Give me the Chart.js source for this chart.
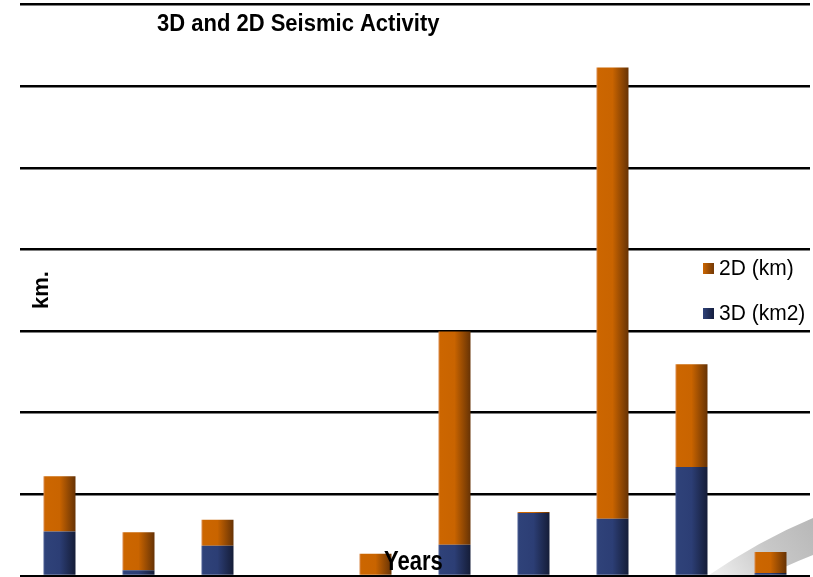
<!DOCTYPE html>
<html>
<head>
<meta charset="utf-8">
<script src="https://cdn.jsdelivr.net/npm/chart.js@4/dist/chart.umd.min.js"></script>
<style>
  html, body { margin: 0; padding: 0; background: #fff; }
  #wrap { position: relative; width: 813px; height: 577px; }
</style>
</head>
<body>
<div id="wrap"><canvas id="c" width="813" height="577"></canvas></div>
<script>
// ---- data (axis has no printed tick labels) ----
const categories = ["Y1", "Y2", "Y3", "Y4", "Y5", "Y6", "Y7", "Y8", "Y9", "Y10"];
const seismic3D = [272, 35, 186, 0, 0, 192, 386, 350, 668, 18];
const seismic2D = [339, 233, 159, 0, 137, 1305, 6, 2764, 629, 129];
const yTicks = [0, 500, 1000, 1500, 2000, 2500, 3000, 3500];

const titleText = "3D and 2D Seismic Activity";
const yTitle = "km.";
const xTitle = "Years";
const label2D = "2D (km)";
const label3D = "3D (km2)";

const BAR_FRAC = 0.405;

function barGradient(ctx, stops) {
  const chart = ctx.chart;
  if (!chart.chartArea || !chart.scales.x) return stops[1][1];
  const xs = chart.scales.x;
  const cx = xs.getPixelForValue(ctx.dataIndex);
  const half = (xs.getPixelForValue(1) - xs.getPixelForValue(0)) * BAR_FRAC / 2;
  const g = chart.ctx.createLinearGradient(cx - half, 0, cx + half, 0);
  stops.forEach(s => g.addColorStop(s[0], s[1]));
  return g;
}
const orangeStops = [[0, '#D9894A'], [0.06, '#CC6600'], [0.5, '#C96400'], [1, '#673305']];
const blueStops = [[0, '#4A5C92'], [0.06, '#2F4279'], [0.5, '#2C3E75'], [1, '#151D38']];

const decoPlugin = {
  id: 'deco',
  beforeDraw(chart) {
    const c = chart.ctx;
    c.save();
    const g = c.createLinearGradient(720, 577, 813, 520);
    g.addColorStop(0, '#ececec');
    g.addColorStop(0.5, '#c8c8c8');
    g.addColorStop(1, '#b8b8b8');
    c.fillStyle = g;
    c.beginPath();
    c.moveTo(706, 577);
    c.quadraticCurveTo(760, 540, 813, 518);
    c.lineTo(813, 555);
    c.quadraticCurveTo(785, 566, 765, 577);
    c.closePath();
    c.fill();
    c.restore();
  },
  afterDraw(chart) {
    const c = chart.ctx;
    c.save();
    c.fillStyle = '#000';
    c.textBaseline = 'alphabetic';
    // title
    c.save();
    c.translate(157, 31);
    c.scale(1, 1.08);
    c.font = 'bold 22px "Liberation Sans", Arial, sans-serif';
    c.textAlign = 'left';
    c.fillText(titleText, 0, 0);
    c.restore();
    // y title
    c.save();
    c.translate(48, 290);
    c.rotate(-Math.PI / 2);
    c.textAlign = 'center';
    c.font = 'bold 22px "Liberation Sans", Arial, sans-serif';
    c.fillText(yTitle, 0, 0);
    c.restore();
    // x title
    c.save();
    c.translate(384, 570);
    c.scale(1, 1.25);
    c.textAlign = 'left';
    c.font = 'bold 22px "Liberation Sans", Arial, sans-serif';
    c.fillText(xTitle, 0, 0);
    c.restore();
    // legend
    const items = [
      { text: label2D, stops: [[0, '#CC6600'], [1, '#7A3C05']], y: 268 },
      { text: label3D, stops: [[0, '#2F4279'], [1, '#172042']], y: 313 }
    ];
    items.forEach(it => {
      const g = c.createLinearGradient(703, 0, 713, 0);
      it.stops.forEach(s => g.addColorStop(s[0], s[1]));
      c.fillStyle = g;
      c.fillRect(703, it.y - 5, 11, 11);
      c.save();
      c.translate(719, it.y + 1);
      c.scale(1, 1.08);
      c.fillStyle = '#000';
      c.font = '21px "Liberation Sans", Arial, sans-serif';
      c.textAlign = 'left';
      c.textBaseline = 'middle';
      c.fillText(it.text, 0, 0);
      c.restore();
    });
    c.restore();
  }
};

new Chart(document.getElementById('c'), {
  type: 'bar',
  data: {
    labels: categories,
    datasets: [
      {
        label: label3D,
        data: seismic3D,
        backgroundColor: ctx => barGradient(ctx, blueStops),
        borderWidth: 0,
        categoryPercentage: 1,
        barPercentage: BAR_FRAC
      },
      {
        label: label2D,
        data: seismic2D,
        backgroundColor: ctx => barGradient(ctx, orangeStops),
        borderWidth: 0,
        categoryPercentage: 1,
        barPercentage: BAR_FRAC
      }
    ]
  },
  options: {
    responsive: false,
    animation: false,
    layout: { padding: { left: 20, right: 3, top: 4.5, bottom: 1 } },
    plugins: {
      legend: { display: false },
      title: { display: false },
      tooltip: { enabled: false }
    },
    scales: {
      x: {
        stacked: true,
        display: false
      },
      y: {
        stacked: true,
        min: yTicks[0],
        max: yTicks[yTicks.length - 1],
        afterBuildTicks: s => { s.ticks = yTicks.map(v => ({ value: v })); },
        afterFit: s => { s.width = 0; },
        ticks: { display: false },
        border: { display: false },
        grid: { color: '#000', lineWidth: 2.5, drawTicks: false }
      }
    }
  },
  plugins: [decoPlugin]
});
</script>
</body>
</html>
